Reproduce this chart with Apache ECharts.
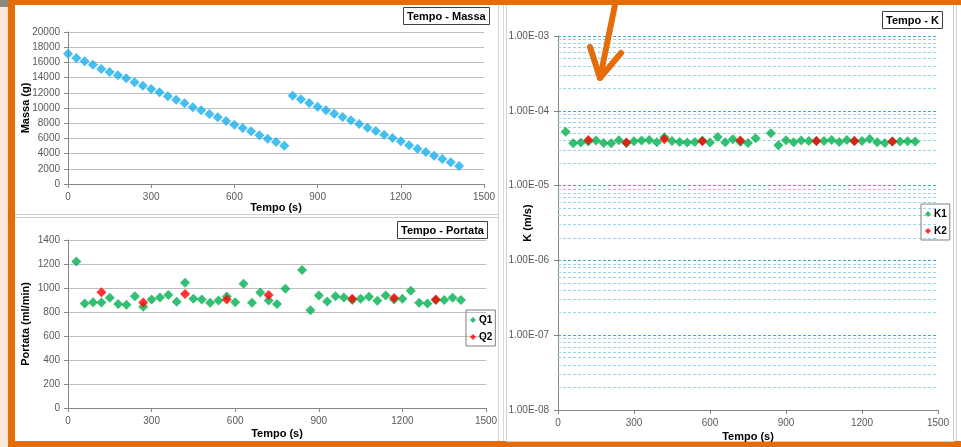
<!DOCTYPE html>
<html>
<head>
<meta charset="utf-8">
<script src="https://cdn.jsdelivr.net/npm/echarts@6/dist/echarts.min.js"></script>
<style>
  html, body { margin: 0; padding: 0; background: #ffffff; }
  #wrap { position: relative; width: 961px; height: 447px; overflow: hidden; background: #ffffff; }
  .bg { position: absolute; }
  #chart { position: absolute; left: 0; top: 0; width: 961px; height: 447px; }
</style>
</head>
<body>
<div id="wrap">
  <!-- cornice del foglio -->
  <div class="bg" style="left:0;top:0;width:8px;height:447px;background:#FDE9D9"></div>
  <div class="bg" style="left:0;top:0;width:8px;height:7px;background:#8c8a80"></div>
  <div class="bg" style="left:8px;top:0;width:953px;height:5px;background:#E46C0A"></div>
  <div class="bg" style="left:8px;top:0;width:7px;height:447px;background:#E46C0A"></div>
  <div class="bg" style="left:8px;top:441px;width:953px;height:6px;background:#E46C0A"></div>
  <div class="bg" style="left:498px;top:5px;width:1px;height:436px;background:#d4d4d4"></div>
  <div class="bg" style="left:503px;top:5px;width:1px;height:436px;background:#d4d4d4"></div>
  <div class="bg" style="left:956px;top:5px;width:1px;height:436px;background:#d4d4d4"></div>
  <div class="bg" style="left:15px;top:214px;width:483px;height:1px;background:#cfcfcf"></div>
  <div class="bg" style="left:15px;top:217px;width:483px;height:1px;background:#cfcfcf"></div>
  <div class="bg" style="left:506px;top:5px;width:446px;height:436px;background:#fff;border:1px solid #d0d0d0;border-top:none"></div>
  <div id="chart"></div>
</div>
<script>
// Tempo - Massa
var massaT1 = [0, 30, 60, 90, 120, 150, 180, 210, 240, 270, 300, 330, 360, 390, 420, 450, 480, 510, 540, 570, 600, 630, 660, 690, 720, 750, 780];
var massaV1 = [17150, 16580, 16140, 15700, 15130, 14740, 14300, 13900, 13380, 12940, 12500, 12060, 11540, 11100, 10610, 10090, 9690, 9210, 8770, 8290, 7810, 7370, 6930, 6400, 5960, 5530, 5040];
var massaT2 = [810, 840, 870, 900, 930, 960, 990, 1020, 1050, 1080, 1110, 1140, 1170, 1200, 1230, 1260, 1290, 1320, 1350, 1380, 1410];
var massaV2 = [11620, 11140, 10660, 10180, 9690, 9250, 8820, 8380, 7890, 7410, 6970, 6490, 6050, 5610, 5090, 4650, 4210, 3730, 3290, 2850, 2370];

// Tempo - Portata  /  Tempo - K (stessi tempi)
var tempi1 = [30, 60, 90, 120, 150, 180, 210, 240, 270, 300, 330, 360, 390, 420, 450, 480, 510, 540, 570, 600, 630, 660, 690, 720, 750, 780,
              840, 870, 900, 930, 960, 990, 1020, 1050, 1080, 1110, 1140, 1170, 1200, 1230, 1260, 1290, 1320, 1350, 1380, 1410];
var q1 = [1220, 871, 882, 880, 918, 866, 860, 932, 843, 905, 921, 941, 885, 1044, 910, 905, 877, 896, 930, 882, 1035, 877, 963, 896, 866, 994,
          1150, 815, 938, 888, 932, 921, 899, 910, 927, 893, 938, 905, 910, 977, 877, 871, 899, 899, 918, 899];
var tempi2 = [120, 270, 420, 570, 720, 1020, 1170, 1320];
var q2 = [964, 880, 949, 905, 941, 910, 916, 905];

var k1 = [5.26e-5, 3.68e-5, 3.76e-5, 3.9e-5, 4.0e-5, 3.72e-5, 3.68e-5, 4.03e-5, 3.7e-5, 3.92e-5, 4.0e-5, 4.08e-5, 3.8e-5, 4.43e-5, 3.96e-5, 3.84e-5,
          3.76e-5, 3.84e-5, 4.0e-5, 3.76e-5, 4.47e-5, 3.8e-5, 4.16e-5, 3.84e-5, 3.72e-5, 4.29e-5,
          5.0e-5, 3.47e-5, 4.03e-5, 3.8e-5, 4.0e-5, 3.96e-5, 3.96e-5, 3.96e-5, 4.08e-5, 3.84e-5, 4.08e-5, 3.96e-5, 3.96e-5, 4.2e-5,
          3.8e-5, 3.72e-5, 3.88e-5, 3.88e-5, 3.92e-5, 3.88e-5];
var k2 = [4.07e-5, 3.76e-5, 4.16e-5, 3.92e-5, 4.0e-5, 3.96e-5, 3.96e-5, 3.88e-5];

function coppie(xs, ys) {
    var out = [];
    for (var i = 0; i < xs.length; i++) out.push([xs[i], ys[i]]);
    return out;
}

// linee secondarie della scala logaritmica (2..9 per ogni decade)
var kMinor = [];
for (var e = -8; e < -3; e++) {
    for (var m = 2; m <= 9; m++) {
        var v = m * Math.pow(10, e);
        kMinor.push({ coords: [[0, v], [1500, v]] });
    }
}

function sciLabel(v) {
    var ex = Math.round(Math.log10(v));
    var mant = v / Math.pow(10, ex);
    var a = Math.abs(ex);
    return mant.toFixed(2) + 'E' + (ex < 0 ? '-' : '+') + (a < 10 ? '0' : '') + a;
}
function plainLabel(v) { return String(v); }

var FONT = 'Liberation Sans';
var grigio = '#595959';
var asseX = function (gi, gap) {
    return {
        gridIndex: gi, type: 'value', min: 0, max: 1500, interval: 300,
        name: 'Tempo (s)', nameLocation: 'middle', nameGap: gap, nameMoveOverlap: false,
        nameTextStyle: { fontFamily: FONT, fontWeight: 'bold', fontSize: 11, color: '#000' },
        axisLine: { lineStyle: { color: '#868686' } },
        axisTick: { show: true, length: 4, lineStyle: { color: '#868686' } },
        axisLabel: { fontFamily: FONT, fontSize: 10, color: grigio, margin: 8, formatter: plainLabel },
        splitLine: { show: false }
    };
};

var titolo = function (text, left, top) {
    return {
        text: text, left: left, top: top,
        borderColor: '#404040', borderWidth: 1, padding: [4, 4, 3, 4],
        textStyle: { fontFamily: FONT, fontWeight: 'bold', fontSize: 11, color: '#000' }
    };
};

var legenda = function (names, left, top) {
    return {
        data: names, left: left, top: top, orient: 'vertical',
        borderColor: '#808080', borderWidth: 1, padding: [5, 3, 4, 4],
        itemWidth: 6, itemHeight: 6, itemGap: 7, icon: 'diamond',
        textStyle: { fontFamily: FONT, fontWeight: 'bold', fontSize: 10, color: '#000', padding: [0, 0, 0, -2] }
    };
};

var myChart = echarts.init(document.getElementById('chart'), null, { renderer: 'canvas' });
var option = {
    backgroundColor: 'transparent',
    animation: false,
    title: [
        titolo('Tempo - Massa', 403, 7),
        titolo('Tempo - Portata', 397, 221),
        titolo('Tempo - K', 882, 11)
    ],
    legend: [
        legenda(['Q1', 'Q2'], 466, 310),
        legenda(['K1', 'K2'], 921, 204)
    ],
    grid: [
        { left: 68, top: 32, width: 416, height: 152 },
        { left: 68, top: 240, width: 418, height: 168 },
        { left: 558, top: 36, width: 380, height: 375 }
    ],
    xAxis: [asseX(0, 18), asseX(1, 20), asseX(2, 21)],
    yAxis: [
        {
            gridIndex: 0, type: 'value', min: 0, max: 20000, interval: 2000,
            name: 'Massa (g)', nameLocation: 'middle', nameRotate: 90, nameGap: 37, nameMoveOverlap: false,
            nameTextStyle: { fontFamily: FONT, fontWeight: 'bold', fontSize: 11, color: '#000' },
            axisLine: { show: true, lineStyle: { color: '#868686' } },
            axisTick: { show: true, length: 4, lineStyle: { color: '#868686' } },
            axisLabel: { fontFamily: FONT, fontSize: 10, color: grigio, margin: 8, formatter: plainLabel },
            splitLine: { lineStyle: { color: '#BFBFBF' } }
        },
        {
            gridIndex: 1, type: 'value', min: 0, max: 1400, interval: 200,
            name: 'Portata (ml/min)', nameLocation: 'middle', nameRotate: 90, nameGap: 37, nameMoveOverlap: false,
            nameTextStyle: { fontFamily: FONT, fontWeight: 'bold', fontSize: 11, color: '#000' },
            axisLine: { show: true, lineStyle: { color: '#868686' } },
            axisTick: { show: true, length: 4, lineStyle: { color: '#868686' } },
            axisLabel: { fontFamily: FONT, fontSize: 10, color: grigio, margin: 8, formatter: plainLabel },
            splitLine: { lineStyle: { color: '#BFBFBF' } }
        },
        {
            gridIndex: 2, type: 'log', logBase: 10, min: 1e-8, max: 1e-3,
            name: 'K (m/s)', nameLocation: 'middle', nameRotate: 90, nameGap: 25, nameMoveOverlap: false,
            nameTextStyle: { fontFamily: FONT, fontWeight: 'bold', fontSize: 11, color: '#000' },
            axisLine: { show: true, lineStyle: { color: '#868686' } },
            axisTick: { show: true, length: 4, lineStyle: { color: '#868686' } },
            axisLabel: { fontFamily: FONT, fontSize: 10, color: grigio, margin: 9, formatter: sciLabel },
            splitLine: { lineStyle: { color: '#3FA8CC', type: [3, 2] } }
        }
    ],
    graphic: [
        { // freccia arancione
            type: 'polyline', z: 100,
            shape: { points: [[616, 0], [600, 78]] },
            style: { stroke: '#E46C0A', lineWidth: 6, lineCap: 'round' }
        },
        {
            type: 'polyline', z: 100,
            shape: { points: [[590, 47], [600, 78], [621, 53]] },
            style: { stroke: '#E46C0A', lineWidth: 6, lineCap: 'round', lineJoin: 'round', fill: null }
        }
    ],
    series: [
        {
            name: 'Massa', type: 'scatter', xAxisIndex: 0, yAxisIndex: 0,
            symbol: 'diamond', symbolSize: 10, itemStyle: { color: '#16AEEF' },
            data: coppie(massaT1, massaV1)
        },
        {
            name: 'Massa2', type: 'scatter', xAxisIndex: 0, yAxisIndex: 0,
            symbol: 'diamond', symbolSize: 10, itemStyle: { color: '#16AEEF' },
            data: coppie(massaT2, massaV2)
        },
        {
            name: 'Q1', type: 'scatter', xAxisIndex: 1, yAxisIndex: 1,
            symbol: 'diamond', symbolSize: 10, itemStyle: { color: '#00B050' },
            data: coppie(tempi1, q1)
        },
        {
            name: 'Q2', type: 'scatter', xAxisIndex: 1, yAxisIndex: 1,
            symbol: 'diamond', symbolSize: 10, itemStyle: { color: '#FF0000' },
            data: coppie(tempi2, q2)
        },
        {
            name: 'griglia', type: 'lines', coordinateSystem: 'cartesian2d',
            xAxisIndex: 2, yAxisIndex: 2, z: 1, silent: true,
            symbol: 'none',
            lineStyle: { color: '#96D3EC', type: [3, 2], width: 1, opacity: 1 },
            data: kMinor
        },
        {
            name: 'K1', type: 'scatter', xAxisIndex: 2, yAxisIndex: 2, z: 3,
            symbol: 'diamond', symbolSize: 10, itemStyle: { color: '#00B050' },
            data: coppie(tempi1, k1)
        },
        {
            name: 'K2', type: 'scatter', xAxisIndex: 2, yAxisIndex: 2, z: 3,
            symbol: 'diamond', symbolSize: 10, itemStyle: { color: '#FF0000' },
            data: coppie(tempi2, k2)
        }
    ]
};
myChart.setOption(option);
window.addEventListener('resize', function () {
    myChart.resize();
});
</script>
</body>
</html>
